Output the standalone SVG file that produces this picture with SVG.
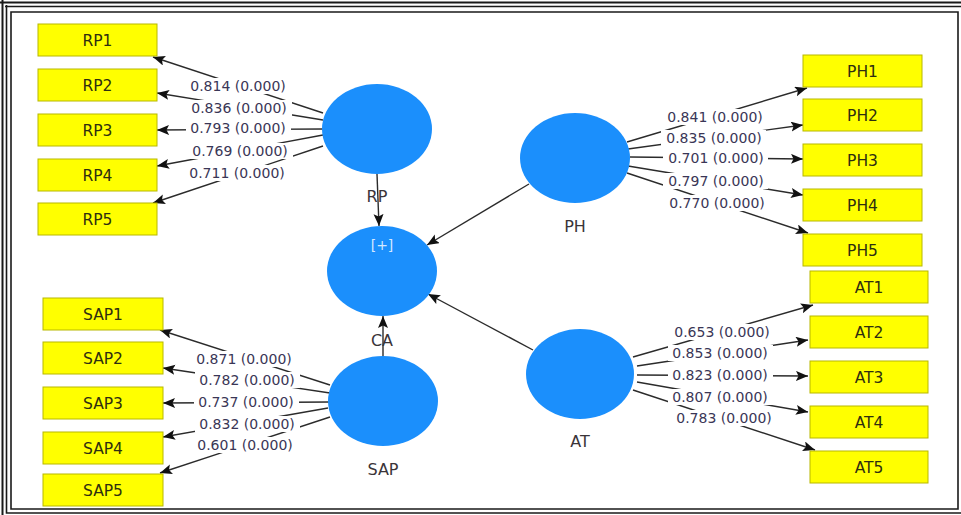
<svg xmlns="http://www.w3.org/2000/svg" width="961" height="515" viewBox="0 0 961 515">
  <style>
    .frame { fill: none; stroke: #1a1a1a; }
    .ind rect { fill: #ffff00; stroke: #b8b800; stroke-width: 1; }
    .ind text { font-family: "DejaVu Sans", "Liberation Sans", sans-serif; font-size: 15.5px; fill: #2e2e10; text-anchor: middle; }
    .lv ellipse { fill: #1b8ffc; }
    .lv text { font-family: "DejaVu Sans", "Liberation Sans", sans-serif; font-size: 16px; fill: #3a3438; text-anchor: middle; }
    .lv text.plus { font-size: 14px; fill: #d4e8ff; }
    .edges line { stroke: #2b2b2b; stroke-width: 1.4; marker-end: url(#arrow); }
    .lbl rect { fill: #ffffff; }
    .lbl text { font-family: "DejaVu Sans", "Liberation Sans", sans-serif; font-size: 14px; fill: #3a3656; text-anchor: middle; }
  </style>
  <defs>
    <marker id="arrow" markerWidth="13" markerHeight="11" refX="12" refY="5" orient="auto" markerUnits="userSpaceOnUse">
      <path d="M0,0 L12,5 L0,10 L2.5,5 z" fill="#111"/>
    </marker>
  </defs>

  <rect width="961" height="515" fill="#ffffff"/>

  <!-- triple-line frame -->
  <g id="frame">
    <path class="frame" stroke-width="2" d="M0,2.5 H961 M2.5,0 V515"/>
    <path class="frame" stroke-width="1.6" d="M5,6.5 H961 M6.5,5 V513 H961"/>
    <path class="frame" stroke-width="1.6" d="M11,12 H958 V509 H11 Z"/>
  </g>

  <!-- connectors -->
  <g id="connectors" class="edges">
    <!-- structural paths -->
    <line x1="377" y1="174" x2="379" y2="226"/>
    <line x1="529" y1="184" x2="427" y2="245"/>
    <line x1="383" y1="356" x2="383" y2="316"/>
    <line x1="533" y1="350" x2="428" y2="294"/>
    <!-- RP loadings -->
    <line x1="323" y1="113" x2="153" y2="57"/>
    <line x1="323" y1="120" x2="157" y2="93"/>
    <line x1="323" y1="129" x2="157" y2="130"/>
    <line x1="323" y1="135" x2="157" y2="166"/>
    <line x1="323" y1="146" x2="153" y2="203"/>
    <!-- PH loadings -->
    <line x1="627" y1="142" x2="807" y2="88"/>
    <line x1="628" y1="149" x2="803" y2="125"/>
    <line x1="630" y1="157" x2="803" y2="159"/>
    <line x1="628" y1="166" x2="803" y2="195"/>
    <line x1="627" y1="173" x2="808" y2="233"/>
    <!-- SAP loadings -->
    <line x1="330" y1="385" x2="160" y2="330"/>
    <line x1="330" y1="393" x2="163" y2="368"/>
    <line x1="330" y1="402" x2="163" y2="403"/>
    <line x1="328" y1="408" x2="163" y2="437"/>
    <line x1="330" y1="417" x2="160" y2="473"/>
    <!-- AT loadings -->
    <line x1="633" y1="357" x2="813" y2="305"/>
    <line x1="637" y1="366" x2="808" y2="340"/>
    <line x1="637" y1="375" x2="808" y2="376"/>
    <line x1="637" y1="382" x2="808" y2="412"/>
    <line x1="633" y1="390" x2="815" y2="450"/>
  </g>

  <!-- loading labels -->
  <g id="labels" class="lbl">
    <rect x="186" y="78" width="105" height="16"/><text x="238" y="91">0.814 (0.000)</text>
    <rect x="187" y="100" width="105" height="16"/><text x="239" y="113">0.836 (0.000)</text>
    <rect x="186" y="120" width="105" height="16"/><text x="238" y="133">0.793 (0.000)</text>
    <rect x="188" y="143" width="105" height="16"/><text x="240" y="156">0.769 (0.000)</text>
    <rect x="185" y="165" width="105" height="16"/><text x="237" y="178">0.711 (0.000)</text>

    <rect x="662" y="109" width="105" height="16"/><text x="715" y="122">0.841 (0.000)</text>
    <rect x="661" y="130" width="105" height="16"/><text x="714" y="143">0.835 (0.000)</text>
    <rect x="663" y="150" width="105" height="16"/><text x="716" y="163">0.701 (0.000)</text>
    <rect x="663" y="173" width="105" height="16"/><text x="716" y="186">0.797 (0.000)</text>
    <rect x="664" y="195" width="105" height="16"/><text x="717" y="208">0.770 (0.000)</text>

    <rect x="192" y="351" width="105" height="16"/><text x="244" y="364">0.871 (0.000)</text>
    <rect x="195" y="372" width="105" height="16"/><text x="247" y="385">0.782 (0.000)</text>
    <rect x="194" y="394" width="105" height="16"/><text x="246" y="407">0.737 (0.000)</text>
    <rect x="195" y="416" width="105" height="16"/><text x="247" y="429">0.832 (0.000)</text>
    <rect x="193" y="437" width="105" height="16"/><text x="245" y="450">0.601 (0.000)</text>

    <rect x="670" y="324" width="105" height="16"/><text x="722" y="337">0.653 (0.000)</text>
    <rect x="668" y="345" width="105" height="16"/><text x="720" y="358">0.853 (0.000)</text>
    <rect x="668" y="367" width="105" height="16"/><text x="720" y="380">0.823 (0.000)</text>
    <rect x="668" y="389" width="105" height="16"/><text x="720" y="402">0.807 (0.000)</text>
    <rect x="672" y="410" width="105" height="16"/><text x="724" y="423">0.783 (0.000)</text>
  </g>

  <!-- latent variables -->
  <g id="RP" class="lv"><ellipse cx="377" cy="129" rx="55" ry="45"/><text x="377" y="202">RP</text></g>
  <g id="CA" class="lv"><ellipse cx="382" cy="271" rx="55" ry="45"/><text class="plus" x="382" y="250">[+]</text><text x="382" y="346">CA</text></g>
  <g id="PH" class="lv"><ellipse cx="575" cy="158" rx="55" ry="45"/><text x="575" y="232">PH</text></g>
  <g id="SAP" class="lv"><ellipse cx="383" cy="401" rx="55" ry="45"/><text x="383" y="475">SAP</text></g>
  <g id="AT" class="lv"><ellipse cx="580" cy="374" rx="54" ry="45"/><text x="580" y="447">AT</text></g>

  <!-- indicators -->
  <g id="RP1" class="ind"><rect x="38" y="24" width="119" height="32"/><text x="97.5" y="46">RP1</text></g>
  <g id="RP2" class="ind"><rect x="38" y="69" width="119" height="32"/><text x="97.5" y="91">RP2</text></g>
  <g id="RP3" class="ind"><rect x="38" y="114" width="119" height="32"/><text x="97.5" y="136">RP3</text></g>
  <g id="RP4" class="ind"><rect x="38" y="159" width="119" height="32"/><text x="97.5" y="181">RP4</text></g>
  <g id="RP5" class="ind"><rect x="38" y="203" width="119" height="32"/><text x="97.5" y="225">RP5</text></g>

  <g id="PH1" class="ind"><rect x="803" y="55" width="119" height="32"/><text x="862.5" y="77">PH1</text></g>
  <g id="PH2" class="ind"><rect x="803" y="99" width="119" height="32"/><text x="862.5" y="121">PH2</text></g>
  <g id="PH3" class="ind"><rect x="803" y="144" width="119" height="32"/><text x="862.5" y="166">PH3</text></g>
  <g id="PH4" class="ind"><rect x="803" y="189" width="119" height="32"/><text x="862.5" y="211">PH4</text></g>
  <g id="PH5" class="ind"><rect x="803" y="234" width="119" height="32"/><text x="862.5" y="256">PH5</text></g>

  <g id="SAP1" class="ind"><rect x="43" y="298" width="120" height="32"/><text x="103" y="320">SAP1</text></g>
  <g id="SAP2" class="ind"><rect x="43" y="342" width="120" height="32"/><text x="103" y="364">SAP2</text></g>
  <g id="SAP3" class="ind"><rect x="43" y="387" width="120" height="32"/><text x="103" y="409">SAP3</text></g>
  <g id="SAP4" class="ind"><rect x="43" y="432" width="120" height="32"/><text x="103" y="454">SAP4</text></g>
  <g id="SAP5" class="ind"><rect x="43" y="474" width="120" height="32"/><text x="103" y="496">SAP5</text></g>

  <g id="AT1" class="ind"><rect x="810" y="271" width="118" height="32"/><text x="869" y="293">AT1</text></g>
  <g id="AT2" class="ind"><rect x="810" y="316" width="118" height="32"/><text x="869" y="338">AT2</text></g>
  <g id="AT3" class="ind"><rect x="810" y="361" width="118" height="32"/><text x="869" y="383">AT3</text></g>
  <g id="AT4" class="ind"><rect x="810" y="406" width="118" height="32"/><text x="869" y="428">AT4</text></g>
  <g id="AT5" class="ind"><rect x="810" y="451" width="118" height="32"/><text x="869" y="473">AT5</text></g>
</svg>
